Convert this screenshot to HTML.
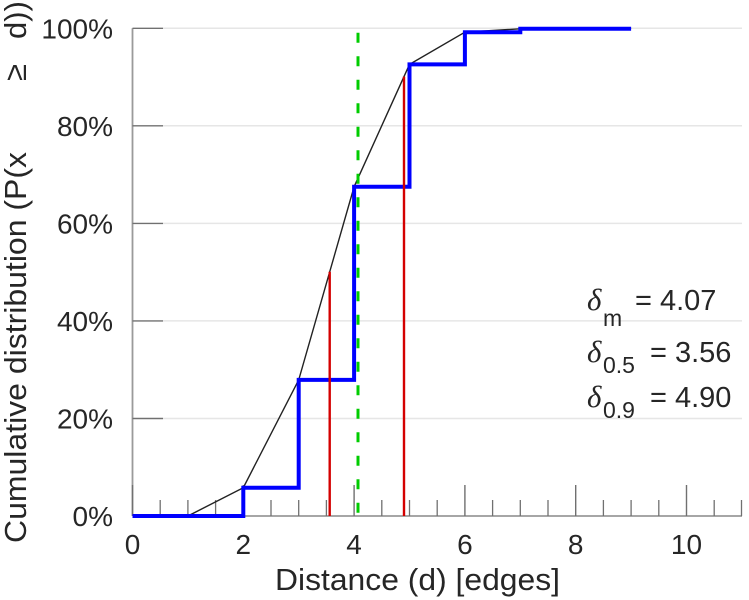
<!DOCTYPE html>
<html><head><meta charset="utf-8"><style>
html,body{margin:0;padding:0;background:#fff;}
svg{display:block;}
text{font-family:"Liberation Sans",sans-serif;fill:#262626;}
</style></head><body>
<svg width="749" height="600" viewBox="0 0 749 600" xmlns="http://www.w3.org/2000/svg">
<rect width="749" height="600" fill="#fff"/>
<!-- gridlines -->
<g stroke="#e6e6e6" stroke-width="1.5">
<line x1="163" y1="418.5" x2="742" y2="418.5"/>
<line x1="163" y1="320.9" x2="742" y2="320.9"/>
<line x1="163" y1="223.4" x2="742" y2="223.4"/>
<line x1="163" y1="125.8" x2="742" y2="125.8"/>
<line x1="163" y1="28.3" x2="742" y2="28.3"/>
</g>
<!-- axes -->
<g stroke="#9a9a9a" stroke-width="1.8">
<line x1="132.5" y1="28.3" x2="132.5" y2="516"/>
<line x1="132.5" y1="516" x2="742" y2="516"/>
</g>
<!-- y ticks -->
<g stroke="#707070" stroke-width="1.4">
<line x1="132.5" y1="418.5" x2="163" y2="418.5"/>
<line x1="132.5" y1="320.9" x2="163" y2="320.9"/>
<line x1="132.5" y1="223.4" x2="163" y2="223.4"/>
<line x1="132.5" y1="125.8" x2="163" y2="125.8"/>
<line x1="132.5" y1="28.3" x2="163" y2="28.3"/>
</g>
<!-- x major ticks -->
<g stroke="#707070" stroke-width="1.4">
<line x1="132.5" y1="516" x2="132.5" y2="485"/>
<line x1="243.3" y1="516" x2="243.3" y2="485"/>
<line x1="354.1" y1="516" x2="354.1" y2="485"/>
<line x1="464.9" y1="516" x2="464.9" y2="485"/>
<line x1="575.7" y1="516" x2="575.7" y2="485"/>
<line x1="686.5" y1="516" x2="686.5" y2="485"/>
</g>
<!-- x minor ticks -->
<g stroke="#707070" stroke-width="1.3">
<line x1="160.2" y1="516" x2="160.2" y2="500"/>
<line x1="187.9" y1="516" x2="187.9" y2="500"/>
<line x1="215.6" y1="516" x2="215.6" y2="500"/>
<line x1="271.0" y1="516" x2="271.0" y2="500"/>
<line x1="298.7" y1="516" x2="298.7" y2="500"/>
<line x1="326.4" y1="516" x2="326.4" y2="500"/>
<line x1="381.8" y1="516" x2="381.8" y2="500"/>
<line x1="409.5" y1="516" x2="409.5" y2="500"/>
<line x1="437.2" y1="516" x2="437.2" y2="500"/>
<line x1="492.6" y1="516" x2="492.6" y2="500"/>
<line x1="520.3" y1="516" x2="520.3" y2="500"/>
<line x1="548.0" y1="516" x2="548.0" y2="500"/>
<line x1="603.4" y1="516" x2="603.4" y2="500"/>
<line x1="631.1" y1="516" x2="631.1" y2="500"/>
<line x1="658.8" y1="516" x2="658.8" y2="500"/>
<line x1="714.2" y1="516" x2="714.2" y2="500"/>
<line x1="741.5" y1="516" x2="741.5" y2="500"/>
</g>
<!-- black interpolation line -->
<polyline fill="none" stroke="#222" stroke-width="1.4" points="132.5,516 187.9,516 243.3,487.7 298.7,379.9 354.1,186.8 409.5,64.4 464.9,32.2 520.3,28.8 575.7,28.3 631.1,28.3"/>
<!-- blue step -->
<polyline fill="none" stroke="#0000ff" stroke-width="4" stroke-linejoin="miter" points="132.5,516 243.3,516 243.3,487.7 298.7,487.7 298.7,379.9 354.1,379.9 354.1,186.8 409.5,186.8 409.5,64.4 464.9,64.4 464.9,32.2 520.3,32.2 520.3,28.8 631.1,28.8"/>
<!-- red lines -->
<g stroke="#d40000" stroke-width="2.4">
<line x1="329.7" y1="516" x2="329.7" y2="271.7"/>
<line x1="404.0" y1="516" x2="404.0" y2="76.6"/>
</g>
<!-- green dashed -->
<line x1="358" y1="32.7" x2="358" y2="516" stroke="#00cc00" stroke-width="3" stroke-dasharray="10 13.5"/>
<!-- y tick labels -->
<g font-size="28" text-anchor="end">
<text x="113" y="526">0%</text>
<text x="113" y="428.5">20%</text>
<text x="113" y="330.9">40%</text>
<text x="113" y="233.4">60%</text>
<text x="113" y="135.8">80%</text>
<text x="113" y="38.3">100%</text>
</g>
<!-- x tick labels -->
<g font-size="28" text-anchor="middle">
<text x="132.5" y="554">0</text>
<text x="243.3" y="554">2</text>
<text x="354.1" y="554">4</text>
<text x="464.9" y="554">6</text>
<text x="575.7" y="554">8</text>
<text x="686.5" y="554">10</text>
</g>
<!-- axis labels -->
<text x="275" y="590" font-size="31" textLength="285" lengthAdjust="spacingAndGlyphs">Distance (d) [edges]</text>
<g transform="translate(26,0) rotate(-90)" font-size="31">
<text x="-543" y="0" textLength="391" lengthAdjust="spacingAndGlyphs">Cumulative distribution (P(x</text>
<text x="-81" y="0">≥</text>
<text x="-39" y="0">d))</text>
</g>
<!-- delta annotations -->
<g>
<text x="587" y="310" font-family="Liberation Serif" font-style="italic" font-size="31" style="font-family:'Liberation Serif',serif">δ</text>
<text x="603" y="326" font-size="23">m</text>
<text x="635" y="310" font-size="29">= 4.07</text>

<text x="587" y="362" font-size="31" font-style="italic" style="font-family:'Liberation Serif',serif">δ</text>
<text x="603" y="373" font-size="23">0.5</text>
<text x="650" y="362" font-size="29">= 3.56</text>

<text x="587" y="407" font-size="31" font-style="italic" style="font-family:'Liberation Serif',serif">δ</text>
<text x="603" y="418" font-size="23">0.9</text>
<text x="650" y="407" font-size="29">= 4.90</text>
</g>
</svg>
</body></html>
